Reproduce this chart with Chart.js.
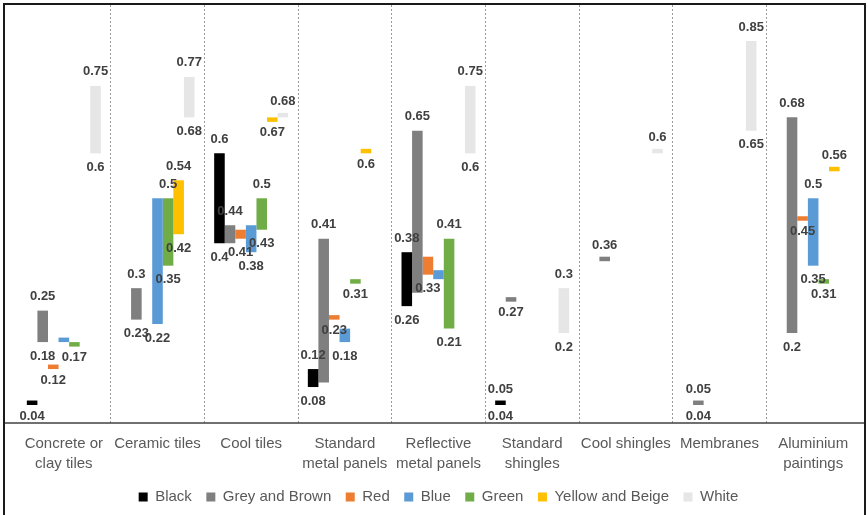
<!DOCTYPE html>
<html>
<head>
<meta charset="utf-8">
<script src="https://cdn.jsdelivr.net/npm/chart.js@4.4.0/dist/chart.umd.min.js"></script>
<style>
  html, body { margin: 0; padding: 0; background: #ffffff; }
  #c { display: block; }
</style>
</head>
<body>
<canvas id="c" width="868" height="515"></canvas>
<script>
// Roofing material categories (multi-line where the label wraps)
const categories = [
  ["Concrete or", "clay tiles"],
  "Ceramic tiles",
  "Cool tiles",
  ["Standard", "metal panels"],
  ["Reflective", "metal panels"],
  ["Standard", "shingles"],
  "Cool shingles",
  "Membranes",
  ["Aluminium", "paintings"]
];

const seriesNames = ["Black", "Grey and Brown", "Red", "Blue", "Green", "Yellow and Beige", "White"];

// Reflectance ranges per colour: low end, high end, and which end values are labelled
const blackLow   = [0.04, null, 0.40, 0.08, 0.26, 0.04, null, null, null];
const blackHigh  = [0.05, null, 0.60, 0.12, 0.38, 0.05, null, null, null];
const blackTags  = ["lo", null, "both", "both", "both", "both", null, null, null];

const greyLow    = [0.18, 0.23, 0.40, 0.09, 0.29, 0.27, 0.36, 0.04, 0.20];
const greyHigh   = [0.25, 0.30, 0.44, 0.41, 0.65, 0.28, 0.37, 0.05, 0.68];
const greyTags   = ["both", "both", "hi", "hi", "hi", "lo", "lo-above", "both", "both"];

const redLow     = [0.12, null, 0.41, 0.23, 0.33, null, null, null, 0.45];
const redHigh    = [0.13, null, 0.43, 0.24, 0.37, null, null, null, 0.46];
const redTags    = ["lo", null, "lo", "lo", "lo", null, null, null, "lo"];

const blueLow    = [0.18, 0.22, 0.38, 0.18, 0.32, null, null, null, 0.35];
const blueHigh   = [0.19, 0.50, 0.44, 0.21, 0.34, null, null, null, 0.50];
const blueTags   = [null, "lo", "lo", "lo", null, null, null, null, "both"];

const greenLow   = [0.17, 0.35, 0.43, 0.31, 0.21, null, null, null, 0.31];
const greenHigh  = [0.18, 0.50, 0.50, 0.32, 0.41, null, null, null, 0.32];
const greenTags  = ["lo", "both", "both", "lo", "both", null, null, null, "lo"];

const yellowLow  = [null, 0.42, 0.67, 0.60, null, null, null, null, 0.56];
const yellowHigh = [null, 0.54, 0.68, 0.61, null, null, null, null, 0.57];
const yellowTags = [null, "both", "lo", "lo", null, null, null, null, "lo-above"];

const whiteLow   = [0.60, 0.68, 0.68, null, 0.60, 0.20, 0.60, 0.65, null];
const whiteHigh  = [0.75, 0.77, 0.69, null, 0.75, 0.30, 0.61, 0.85, null];
const whiteTags  = ["both", "both", "lo-above", null, "both", "both", "lo-above", "both", null];

const seriesColors = ["#000000", "#7f7f7f", "#ed7d31", "#5b9bd5", "#70ad47", "#ffc000", "#e7e6e6"];

const lows  = [blackLow, greyLow, redLow, blueLow, greenLow, yellowLow, whiteLow];
const highs = [blackHigh, greyHigh, redHigh, blueHigh, greenHigh, yellowHigh, whiteHigh];
const tags  = [blackTags, greyTags, redTags, blueTags, greenTags, yellowTags, whiteTags];

const datasets = seriesNames.map((name, s) => ({
  label: name,
  data: lows[s].map((lo, i) => (lo === null ? null : [lo, highs[s][i]])),
  labelModes: tags[s],
  backgroundColor: seriesColors[s],
  borderWidth: 0,
  categoryPercentage: 0.79,
  barPercentage: 1.0
}));

const FONT = '"Liberation Sans", Arial, sans-serif';

// Value labels at the ends of each floating bar
const rangeLabels = {
  id: 'rangeLabels',
  afterDatasetsDraw(chart) {
    const ctx = chart.ctx;
    ctx.save();
    ctx.font = 'bold 13px ' + FONT;
    ctx.fillStyle = '#404040';
    ctx.textAlign = 'center';
    ctx.textBaseline = 'middle';
    chart.data.datasets.forEach((ds, di) => {
      const meta = chart.getDatasetMeta(di);
      meta.data.forEach((bar, i) => {
        const range = ds.data[i];
        const mode = ds.labelModes[i];
        if (!range || !mode) return;
        const top = Math.min(bar.y, bar.base);
        const bottom = Math.max(bar.y, bar.base);
        const gap = (bottom - top) < 6 ? 11 : 14;
        if (mode === 'both' || mode === 'hi') ctx.fillText(String(range[1]), bar.x, top - gap);
        if (mode === 'both' || mode === 'lo') ctx.fillText(String(range[0]), bar.x, bottom + gap);
        if (mode === 'lo-above') ctx.fillText(String(range[0]), bar.x, top - gap);
      });
    });
    ctx.restore();
  }
};

// Category axis line across the full width, plus the outer frame
const frameAndAxis = {
  id: 'frameAndAxis',
  afterDraw(chart) {
    const ctx = chart.ctx;
    const y = chart.chartArea.bottom;
    ctx.save();
    ctx.strokeStyle = '#404040';
    ctx.lineWidth = 1.5;
    ctx.beginPath();
    ctx.moveTo(4, y);
    ctx.lineTo(865, y);
    ctx.stroke();
    ctx.strokeStyle = '#1a1a1a';
    ctx.lineWidth = 2;
    ctx.beginPath();
    ctx.moveTo(4, 515);
    ctx.lineTo(4, 4);
    ctx.lineTo(865, 4);
    ctx.lineTo(865, 515);
    ctx.stroke();
    ctx.restore();
  }
};

new Chart(document.getElementById('c'), {
  type: 'bar',
  data: { labels: categories, datasets: datasets },
  options: {
    responsive: false,
    animation: false,
    devicePixelRatio: 1,
    layout: { padding: { top: 5, left: 17, right: 8, bottom: 0.5 } },
    plugins: {
      legend: {
        position: 'bottom',
        labels: {
          boxWidth: 9,
          boxHeight: 9,
          padding: 14.5,
          color: '#595959',
          font: { family: FONT, size: 15 }
        }
      },
      tooltip: { enabled: false }
    },
    scales: {
      x: {
        grid: {
          offset: true,
          drawTicks: false,
          lineWidth: 1,
          // only the separators between categories are drawn
          color: (c) => (c.type !== 'tick' || c.index === 0) ? 'rgba(0,0,0,0)' : '#9a9a9a'
        },
        border: { display: false, dash: [2, 2] },
        ticks: {
          padding: 11,
          autoSkip: false,
          maxRotation: 0,
          color: '#595959',
          font: { family: FONT, size: 15, lineHeight: 1.3333 }
        },
        afterFit(scale) { scale.height = 52; }
      },
      y: {
        display: false,
        min: 0,
        max: 0.93
      }
    }
  },
  plugins: [rangeLabels, frameAndAxis]
});
</script>
</body>
</html>
